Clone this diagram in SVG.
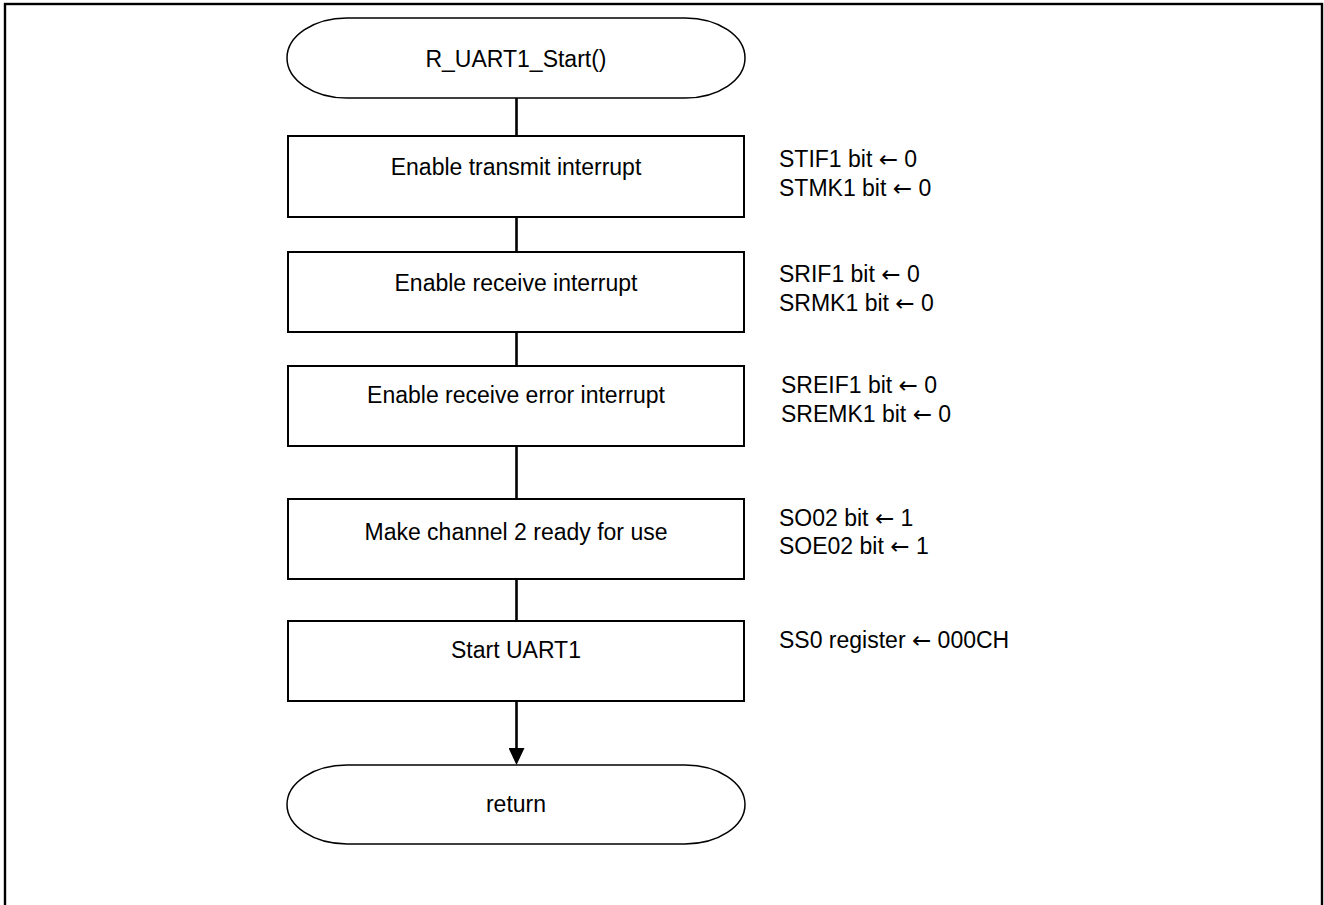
<svg xmlns="http://www.w3.org/2000/svg" width="1324" height="905" viewBox="0 0 1324 905">
<defs>
<style>
.frame{fill:none;stroke:#000;stroke-width:2.4}
.node{fill:#fff;stroke:#000;stroke-width:2}
.term{fill:#fff;stroke:#000;stroke-width:1.5}
.conn{stroke:#000;stroke-width:2.6;fill:none}
.t{font-family:"Liberation Sans",Arial,sans-serif;font-size:23px;fill:#000}
.c{text-anchor:middle}
.ar{font-family:"DejaVu Sans",sans-serif}
</style>
<marker id="ah" markerUnits="userSpaceOnUse" markerWidth="17" markerHeight="16" refX="2" refY="8" orient="auto" viewBox="0 0 17 16">
<path d="M0,0 L17,8 L0,16 Z" fill="#000"/>
</marker>
</defs>
<rect class="frame" x="5" y="4" width="1317" height="910"/>
<g id="connectors">
<line class="conn" x1="516.5" y1="98" x2="516.5" y2="136"/>
<line class="conn" x1="516.5" y1="217" x2="516.5" y2="252"/>
<line class="conn" x1="516.5" y1="332" x2="516.5" y2="366"/>
<line class="conn" x1="516.5" y1="446" x2="516.5" y2="499"/>
<line class="conn" x1="516.5" y1="579" x2="516.5" y2="621"/>
<line class="conn" x1="516.5" y1="701" x2="516.5" y2="750" marker-end="url(#ah)"/>
</g>
<g id="start">
<rect class="term" x="287" y="18" width="458" height="80" rx="60" ry="40"/>
<text class="t c" x="516" y="67">R_UART1_Start()</text>
</g>
<g id="step1">
<rect class="node" x="288" y="136" width="456" height="81"/>
<text class="t c" x="516" y="175">Enable transmit interrupt</text>
<text class="t" x="779" y="167">STIF1 bit <tspan class="ar">←</tspan> 0</text>
<text class="t" x="779" y="196">STMK1 bit <tspan class="ar">←</tspan> 0</text>
</g>
<g id="step2">
<rect class="node" x="288" y="252" width="456" height="80"/>
<text class="t c" x="516" y="291">Enable receive interrupt</text>
<text class="t" x="779" y="282">SRIF1 bit <tspan class="ar">←</tspan> 0</text>
<text class="t" x="779" y="311">SRMK1 bit <tspan class="ar">←</tspan> 0</text>
</g>
<g id="step3">
<rect class="node" x="288" y="366" width="456" height="80"/>
<text class="t c" x="516" y="403">Enable receive error interrupt</text>
<text class="t" x="781" y="393">SREIF1 bit <tspan class="ar">←</tspan> 0</text>
<text class="t" x="781" y="422">SREMK1 bit <tspan class="ar">←</tspan> 0</text>
</g>
<g id="step4">
<rect class="node" x="288" y="499" width="456" height="80"/>
<text class="t c" x="516" y="540">Make channel 2 ready for use</text>
<text class="t" x="779" y="526">SO02 bit <tspan class="ar">←</tspan> 1</text>
<text class="t" x="779" y="554">SOE02 bit <tspan class="ar">←</tspan> 1</text>
</g>
<g id="step5">
<rect class="node" x="288" y="621" width="456" height="80"/>
<text class="t c" x="516" y="658">Start UART1</text>
<text class="t" x="779" y="648">SS0 register <tspan class="ar">←</tspan> 000CH</text>
</g>
<g id="return">
<rect class="term" x="287" y="765" width="458" height="79" rx="60" ry="39.5"/>
<text class="t c" x="516" y="812">return</text>
</g>
</svg>
